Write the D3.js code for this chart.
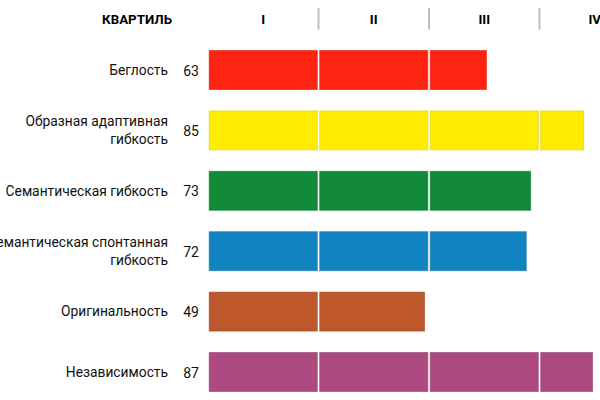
<!DOCTYPE html>
<html><head><meta charset="utf-8">
<script src="https://cdn.jsdelivr.net/npm/d3@7"></script>
<style>
body{margin:0;background:#fff;}
svg{display:block;font-family:Roboto,"Noto Sans",sans-serif;}
</style>
</head><body>
<svg id="chart" width="600" height="400"></svg>
<script>
const categories = [
  ["Беглость"],
  ["Образная адаптивная", "гибкость"],
  ["Семантическая гибкость"],
  ["Семантическая спонтанная", "гибкость"],
  ["Оригинальность"],
  ["Независимость"]
];
const values = [63, 85, 73, 72, 49, 87];
const colors = ["#FF2411", "#FFEC00", "#128A37", "#1283C1", "#BC582B", "#AD4A80"];
const quartileLabels = ["I", "II", "III", "IV"];
const headerTitle = "КВАРТИЛЬ";

const svg = d3.select("#chart");
const x = d3.scaleLinear().domain([0, 100]).range([208, 650]);
const keys = categories.map((c, i) => i);
const y = d3.scaleBand().domain(keys).range([39.8, 402.2]).paddingInner(0.338).paddingOuter(0.169);

// header
svg.append("text").attr("x", 172).attr("y", 23.5).attr("text-anchor", "end")
  .attr("font-size", 13.3).attr("font-weight", "bold").attr("fill", "#000").text(headerTitle);
quartileLabels.forEach((q, k) => {
  svg.append("text").attr("x", (x(25 * k) + x(25 * k + 25)) / 2).attr("y", 23.5)
    .attr("text-anchor", "middle").attr("font-size", 13.3).attr("font-weight", "bold")
    .attr("fill", "#000").text(q);
});
[25, 50, 75].forEach(b => {
  svg.append("line").attr("x1", x(b)).attr("x2", x(b)).attr("y1", 8).attr("y2", 29.5)
    .attr("stroke", "#bdbdbd").attr("stroke-width", 2);
});

// rows
keys.forEach(i => {
  const v = values[i];
  const y0 = y(i), bh = y.bandwidth(), cy = y0 + bh / 2;
  const g = svg.append("g");
  const lines = categories[i];
  const lh = 18;
  lines.forEach((t, j) => {
    g.append("text").attr("x", 168).attr("y", cy + 4.8 + (j - (lines.length - 1) / 2) * lh)
      .attr("text-anchor", "end").attr("font-size", 13.8).attr("fill", "#111").text(t);
  });
  g.append("text").attr("x", 199).attr("y", cy + 5.5).attr("text-anchor", "end")
    .attr("font-size", 14).attr("fill", "#111").text(v);
  const segs = [];
  for (let k = 0; k < 4; k++) {
    const lo = 25 * k, hi = Math.min(v, 25 * k + 25);
    if (hi > lo) segs.push({lo, hi, endIsBoundary: hi === 25 * k + 25 && hi !== 100});
  }
  const c = d3.color(colors[i]);
  g.selectAll("rect").data(segs).join("rect")
    .attr("x", d => x(d.lo) + 1.2)
    .attr("y", y0 + 0.5)
    .attr("width", d => x(d.hi) - x(d.lo) - 1.2 - (d.endIsBoundary ? 1.2 : 0))
    .attr("height", bh - 1)
    .attr("fill", colors[i])
    .attr("stroke", c.darker(0.4).formatHex())
    .attr("stroke-opacity", 0.6)
    .attr("stroke-width", 1);
});
</script>
</body></html>
